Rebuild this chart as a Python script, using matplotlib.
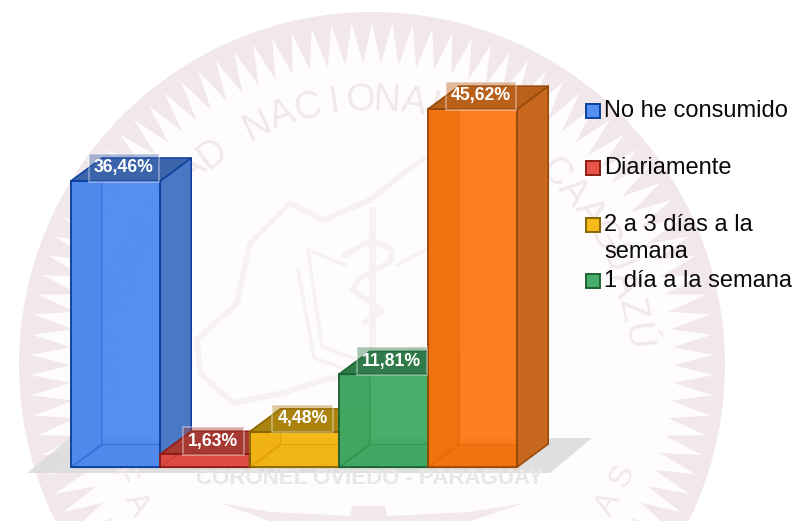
"""Consumption frequency chart: fake 3D bars over a faint university seal."""

import matplotlib
matplotlib.use("Agg")
import matplotlib.pyplot as plt
import numpy as np
from matplotlib.patches import Circle, Polygon, Rectangle

W, H = 794, 521
plt.rcParams["font.family"] = ["Liberation Sans", "DejaVu Sans"]

categories = ["No he consumido", "Diariamente", "2 a 3 días a la\nsemana", "1 día a la semana", "Otros"]
values = [36.46, 1.63, 4.48, 11.81, 45.62]
labels = ["36,46%", "1,63%", "4,48%", "11,81%", "45,62%"]
legend_rows = [111, 168, 225, 281]

fronts = ["#5590f0", "#e8534a", "#f6bb1a", "#47ad68", "#fd7d20"]
# front colours before the 0.92 alpha lets the white through
fills = ["#4686ef", "#e6443a", "#f5b506", "#37a65b", "#fd720d"]
walls = ["#4f89ec", "#df4c43", "#f0b414", "#42a762", "#f0720f"]
sides = ["#4a78c4", "#b9443c", "#c2920f", "#37894f", "#c8671e"]
tops = ["#3c64aa", "#a63a33", "#ab830f", "#317a49", "#b9601b"]
inners = ["#3670d8", "#c9403a", "#e0a208", "#349552", "#e56c08"]
edges = ["#0d3f9f", "#8f1c14", "#8a6400", "#1d6235", "#97490a"]

# px layout of the plot area
X0, BASE = 71, 467
BAR_PX, PCT_PX = 89.25, 7.845
DEPTH_X, DEPTH_Y = 31 / BAR_PX, 23 / PCT_PX

SEAL_X, SEAL_Y, SEAL_R = 372, 365, 353
PINK = "#f2e8eb"
PALE = "#f6f1f2"


def arc_letters(ax, text, start, step, radius, flip=False, size=27):
    for i, ch in enumerate(text):
        a = np.radians(start + i * step)
        x = SEAL_X + radius * np.sin(a)
        if flip:
            y = SEAL_Y + radius * np.cos(a)
            rot = np.degrees(a)
        else:
            y = SEAL_Y - radius * np.cos(a)
            rot = -np.degrees(a)
        ax.text(x, y, ch, color="#f1e8eb", fontsize=size, ha="center", va="center", rotation=rot)


def draw_seal(bg):
    bg.add_patch(Circle((SEAL_X, SEAL_Y), SEAL_R, color=PINK, lw=0))
    n = 106
    ang = np.linspace(0, 2 * np.pi, 2 * n, endpoint=False)
    rad = np.where(np.arange(2 * n) % 2 == 0, SEAL_R - 11, SEAL_R - 52)
    pts = np.column_stack([SEAL_X + rad * np.sin(ang), SEAL_Y - rad * np.cos(ang)])
    bg.add_patch(Polygon(pts, closed=True, fc="#fefcfd", ec="none"))

    arc_letters(bg, "UNIVERSIDAD NACIONAL DE CAAGUAZÚ", -94.5, 5.75, 265)
    arc_letters(bg, "FA", -66, 6.5, 274, flip=True, size=23)
    arc_letters(bg, "SA", 66, -6.5, 274, flip=True, size=23)

    # shield outline, left half plus the rising top edge
    sx = [425, 405, 370, 323, 290, 250, 237, 197, 200, 233, 283, 323, 365]
    sy = [158, 172, 200, 220, 203, 243, 303, 340, 373, 403, 393, 380, 372]
    bg.plot(sx, sy, color=PALE, lw=4, solid_capstyle="round")

    # open book
    bg.plot([308, 322, 372], [250, 347, 365], color=PALE, lw=2.5)
    bg.plot([298, 314, 372], [270, 358, 378], color=PALE, lw=2.5)
    bg.plot([308, 345], [250, 265], color=PALE, lw=2.5)
    bg.plot([372, 422], [365, 347], color=PALE, lw=2.5)
    bg.plot([397, 425], [265, 250], color=PALE, lw=2.5)

    # rod and serpent
    bg.plot([SEAL_X, SEAL_X], [210, 345], color=PALE, lw=5)
    bg.plot([345, 372, 392, 390, 360, 352, 372, 382, 365],
            [255, 240, 250, 262, 278, 290, 303, 312, 322], color=PALE, lw=4)

    bg.text(SEAL_X - 2, 478, "CORONEL OVIEDO - PARAGUAY", color="#e9e6e6", fontsize=16,
            fontweight="bold", ha="center", va="center")
    # ribbon at the bottom edge
    bg.add_patch(Polygon([(220, 503), (270, 512), (350, 516), (352, 506), (385, 506), (387, 516),
                          (470, 512), (525, 503), (470, 521), (270, 521)],
                         closed=True, fc="#f3e8eb", ec="none"))


def bar3d(ax, i, v):
    x0, x1 = i, i + 1
    dx, dy = DEPTH_X, DEPTH_Y
    kw = dict(closed=True, lw=1.1, ec=edges[i], joinstyle="round")
    inner_kw = dict(closed=True, lw=0.9, ec=inners[i], fc=walls[i], alpha=0.92)
    ax.add_patch(Rectangle((x0, 0), 1, v, fc=fills[i], ec="none", alpha=0.92))
    # left wall and floor show through the front
    ax.add_patch(Polygon([(x0, 0), (x0 + dx, dy), (x0 + dx, v + dy), (x0, v)], **inner_kw))
    ax.add_patch(Polygon([(x0, 0), (x1, 0), (x1, dy), (x0 + dx, dy)], **inner_kw))
    # right wall and top
    ax.add_patch(Polygon([(x1, 0), (x1 + dx, dy), (x1 + dx, v + dy), (x1, v)], fc=sides[i], **kw))
    ax.add_patch(Polygon([(x0, v), (x1, v), (x1 + dx, v + dy), (x0 + dx, v + dy)], fc=tops[i], **kw))
    ax.add_patch(Rectangle((x0, 0), 1, v, fc="none", ec=edges[i], lw=1.3, zorder=3))


def main():
    fig = plt.figure(figsize=(W / 100, H / 100), dpi=100, facecolor="white")

    bg = fig.add_axes([0, 0, 1, 1], zorder=0)
    bg.set_xlim(0, W)
    bg.set_ylim(H, 0)
    bg.axis("off")
    draw_seal(bg)
    # floor shadow
    bg.add_patch(Polygon([(27, 473), (550, 473), (592, 438), (70, 438)], closed=True, fc="#dcdcdc", alpha=0.9, ec="none"))

    ax = fig.add_axes([0, 0, 1, 1], zorder=1)
    ax.set_xlim(-X0 / BAR_PX, (W - X0) / BAR_PX)
    ax.set_ylim((BASE - H) / PCT_PX, BASE / PCT_PX)
    ax.axis("off")

    for i, v in enumerate(values):
        bar3d(ax, i, v)
    for i, (v, lab) in enumerate(zip(values, labels)):
        r, g, b, _ = matplotlib.colors.to_rgba(tops[i])
        ax.annotate(
            lab,
            xy=(i + 0.5, v),
            xytext=(6, 9.5),
            textcoords="offset points",
            ha="center",
            va="center",
            color="white",
            fontsize=12.7,
            fontweight="bold",
            zorder=6,
            bbox=dict(boxstyle="square,pad=0.3", fc=(r, g, b, 0.42), ec=(1, 1, 1, 0.4), lw=1.2),
        )

    # legend, only the four visible entries
    for i, y in enumerate(legend_rows):
        bg.add_patch(Rectangle((586, y - 7), 14, 14, fc=fronts[i], ec=edges[i], lw=1.4, zorder=5))
        name = categories[i]
        if "\n" in name:
            first, second = name.split("\n")
            bg.text(604, y, first, fontsize=17, va="center", ha="left", color="#0a0a0a", zorder=5)
            bg.text(604, y + 27, second, fontsize=17, va="center", ha="left", color="#0a0a0a", zorder=5)
        else:
            bg.text(604, y, name, fontsize=17, va="center", ha="left", color="#0a0a0a", zorder=5)

    fig.savefig("out.png", dpi=100)
    plt.close(fig)


if __name__ == "__main__":
    main()
